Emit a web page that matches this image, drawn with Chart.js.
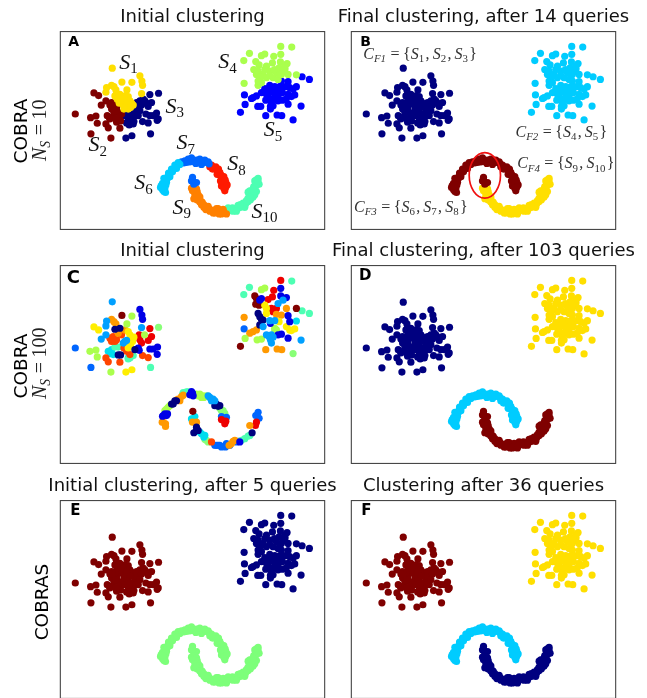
<!DOCTYPE html>
<html>
<head>
<meta charset="utf-8">
<script src="https://cdn.jsdelivr.net/npm/chart.js@4"></script>
<style>
  html, body { margin: 0; padding: 0; background: #fff; overflow: hidden; width: 647px; height: 698px; }
  canvas { position: absolute; }
</style>
</head>
<body>
<canvas id="panelA"></canvas>
<canvas id="panelB"></canvas>
<canvas id="panelC"></canvas>
<canvas id="panelD"></canvas>
<canvas id="panelE"></canvas>
<canvas id="panelF"></canvas>
<script>
// points, same dataset in every panel
const s1 = [[337,206],[420,229],[426,245],[428,258],[366,248],[396,249],[335,258],[342,262],[320,265],[318,279],[348,272],[381,272],[425,283],[360,285],[375,290],[385,292],[352,300],[365,305],[378,300],[390,305],[395,312],[370,318],[380,322],[400,318],[372,330],[385,330],[345,290],[362,295],[372,310],[388,315],[358,312],[368,298],[380,310],[392,325],[350,285]];
const s2 = [[282,281],[296,289],[318,305],[304,318],[226,345],[272,356],[288,351],[292,373],[318,375],[325,387],[273,405],[333,418],[360,388],[362,366],[335,310],[340,325],[350,325],[335,330],[355,340],[328,355],[340,352],[350,370],[330,360],[345,315],[342,340],[365,345],[338,318],[348,335],[330,318],[358,355],[348,360],[322,350]];
const s3 = [[476,282],[450,286],[420,305],[435,305],[418,318],[455,310],[445,322],[415,330],[405,340],[380,340],[390,345],[375,350],[415,350],[470,342],[450,350],[460,350],[475,360],[428,368],[445,372],[472,364],[385,365],[395,365],[388,378],[400,375],[378,418],[396,411],[452,405],[410,325],[398,355],[430,300],[410,310],[425,318],[440,312],[388,352],[402,368],[380,372],[392,372],[420,335],[408,350],[438,345]];
const s4 = [[843,140],[876,142],[749,161],[785,168],[795,163],[822,170],[843,164],[732,183],[768,186],[778,196],[818,190],[842,187],[862,192],[762,210],[775,215],[800,200],[838,205],[856,208],[890,226],[770,225],[790,225],[810,215],[830,220],[850,215],[865,225],[733,252],[780,240],[800,235],[820,235],[835,240],[775,258],[785,250],[782,232],[810,228],[824,210],[845,225],[795,210],[775,245],[855,200]];
const s5 = [[907,232],[929,240],[845,245],[865,247],[858,262],[890,262],[870,265],[810,258],[825,262],[795,268],[815,270],[838,270],[734,287],[785,280],[770,290],[755,298],[760,295],[800,285],[825,285],[835,290],[865,285],[885,287],[875,292],[860,298],[848,303],[798,303],[815,310],[835,305],[736,316],[774,322],[783,322],[812,322],[820,320],[865,315],[904,321],[722,340],[812,330],[798,350],[832,348],[846,350],[880,363],[795,275],[808,280],[828,275],[848,280],[840,262],[805,295],[820,298],[848,262],[880,270]];
const s6 = [[497,583],[488,575],[482,568],[495,572],[490,565],[498,560],[488,555],[495,548],[500,540],[505,532],[510,527],[514,520],[520,513],[527,508],[532,502],[540,498],[492,580],[484,562],[500,552],[492,540],[506,524],[515,512],[525,500],[535,492],[503,540],[510,535],[518,520],[530,510],[488,565]];
const s7Top = [[545,490],[555,487],[565,482],[575,478],[570,490],[580,488],[590,485],[598,490],[605,486],[612,492],[605,498],[620,492],[628,496],[552,493],[560,492],[575,488],[588,495],[600,482],[615,485],[625,490]];
const s7Inner = [[578,537],[575,548],[590,553],[582,558],[578,545]];
const s8 = [[635,500],[642,508],[650,515],[655,522],[660,530],[665,538],[670,545],[678,552],[668,555],[665,563],[678,567],[675,578],[672,570],[630,505],[648,505],[660,522],[672,535],[662,548],[682,560],[638,512],[652,528],[664,530],[676,545],[656,512]];
const s9 = [[575,570],[585,566],[590,572],[592,580],[595,590],[582,602],[600,603],[607,612],[612,620],[620,627],[628,632],[638,637],[648,640],[660,640],[672,642],[645,645],[680,648],[665,648],[578,578],[600,596],[592,606],[605,620],[618,635],[630,640],[655,632],[670,634],[658,648],[585,590],[590,598],[600,612],[612,628],[625,625],[640,645],[650,632]];
const s10 = [[690,638],[698,630],[706,634],[715,630],[722,628],[730,622],[738,617],[745,610],[752,605],[760,597],[765,590],[750,578],[745,582],[762,565],[768,555],[770,545],[775,540],[778,558],[685,630],[700,640],[715,622],[730,615],[745,600],[755,590],[770,580],[758,582],[765,548],[770,562],[682,642],[735,628],[710,640],[722,620],[740,608],[750,598],[762,578],[775,548],[760,572]];

// panel C: 100 small clusters, grouped by colour
const cColors = ['#00a0ff','#000080','#0000e6','#aaff4d','#ffee00','#ff9900','#ff4400','#800000','#ee0000','#4dffb3','#00ddee','#0066ff','#88ff77'];
const cPoints = [
  [[337,205],[320,263],[318,278],[425,283],[318,305],[304,318],[375,325],[370,330],[380,322],[810,262],[825,262],[835,210],[850,200],[800,305],[815,305],[812,320],[815,330],[904,321],[790,280],[630,495],[640,500],[808,310],[820,312],[635,505],[625,490],[645,505]],
  [[345,288],[360,285],[362,366],[405,350],[775,240],[780,250],[790,260],[780,275],[785,258],[525,505],[520,515],[650,515],[645,520],[590,585],[582,602],[595,595],[757,602],[355,366],[655,522],[590,595],[515,515],[530,505],[660,520]],
  [[420,228],[426,245],[428,258],[450,348],[460,348],[473,342],[472,364],[415,345],[843,164],[843,187],[860,192],[780,200],[785,195],[865,315],[865,247],[870,265],[845,303],[835,305],[812,270],[575,477],[570,487],[490,550],[500,550],[495,545],[418,352],[578,482],[488,552],[503,545],[580,490],[720,630]],
  [[396,248],[270,355],[288,351],[292,372],[333,418],[381,272],[434,305],[785,168],[795,163],[825,285],[830,290],[772,320],[785,318],[736,316],[500,530],[505,525],[600,485],[610,490],[595,490],[605,495],[495,535],[510,520],[590,485],[612,495],[620,490]],
  [[282,281],[296,290],[378,418],[396,411],[385,295],[390,305],[395,315],[398,325],[392,335],[385,345],[800,225],[795,215],[800,240],[838,265],[860,280],[870,290],[885,287],[875,292],[402,312]],
  [[335,258],[342,265],[348,272],[375,290],[355,300],[733,252],[770,290],[760,295],[750,300],[860,225],[845,245],[830,243],[798,350],[832,348],[846,350],[490,570],[497,575],[497,583],[487,570],[535,500],[545,492],[540,505],[578,570],[590,570],[695,635],[700,628],[750,580],[530,503],[550,488],[688,640],[705,625]],
  [[340,310],[350,320],[335,325],[345,325],[318,375],[325,387],[360,388],[372,345],[380,355],[390,365],[428,368],[445,374],[365,305],[635,630],[360,300],[330,315],[380,345]],
  [[366,246],[765,187],[770,195],[768,212],[778,215],[890,225],[722,340],[579,537]],
  [[450,286],[418,305],[420,320],[425,330],[455,310],[445,322],[843,140],[822,170],[805,198],[818,190],[815,225],[830,225],[820,235],[665,562],[675,575],[678,567],[767,580],[770,570]],
  [[345,342],[355,342],[400,368],[390,375],[452,404],[876,142],[749,161],[732,183],[907,232],[929,240],[550,480],[560,478],[735,620],[745,612],[385,378],[548,487],[565,478],[725,625],[750,610]],
  [[325,355],[335,350],[340,365],[385,375],[890,263],[585,553],[575,560],[605,605],[612,615],[332,362],[600,600],[615,610]],
  [[226,345],[273,404],[733,287],[680,555],[665,553],[650,640],[660,640],[677,645],[690,640],[715,628],[768,550],[775,540],[778,558],[655,640],[710,630],[645,640],[665,645],[680,635]],
  [[476,282],[880,362],[665,535],[670,535],[620,625],[825,290],[660,528],[675,543],[625,630],[615,622]]
];

const panelTitles = ['Initial clustering', 'Final clustering, after 14 queries', 'Initial clustering', 'Final clustering, after 103 queries', 'Initial clustering, after 5 queries', 'Clustering after 36 queries'];

const NAVY = '#000080', DARKRED = '#7f0000', YELLOW = '#ffdf00', SKY = '#00ccff', GREEN = '#7dff7a';
const upperMoon = [...s6, ...s7Top, ...s8];
const lowerMoon = [...s7Inner, ...s9, ...s10];
const leftBlob = [...s1, ...s2, ...s3];
const rightBlob = [...s4, ...s5];

function toXY(pts) { return pts.map(p => ({ x: p[0], y: p[1] })); }
function ds(pts, color) {
  return { data: toXY(pts), backgroundColor: color, borderWidth: 0, pointRadius: 3.6, pointHoverRadius: 3.6 };
}

// mini math text: S_1 style subscripts, capitals italic
function drawMath(ctx, str, x, y, size, color) {
  ctx.save();
  ctx.fillStyle = color;
  ctx.textBaseline = 'alphabetic';
  ctx.textAlign = 'left';
  let cx = x;
  str.split(/(_\{[^}]*\}|_[^ ])/).forEach(part => {
    if (!part) return;
    if (part[0] === '_') {
      const sub = part.replace(/[_{}]/g, '');
      ctx.font = (sub === 'S' || sub[0] === 'F' ? 'italic ' : '') + (size * 0.68) + 'px "Liberation Serif"';
      ctx.fillText(sub, cx, y + size * 0.2);
      cx += ctx.measureText(sub).width + size * 0.08;
    } else {
      for (const ch of part) {
        const ital = /[A-Z]/.test(ch);
        ctx.font = (ital ? 'italic ' : '') + size + 'px "Liberation Serif"';
        if (ch === '=') cx += size * 0.2;
        ctx.fillText(ch, cx, y);
        cx += ctx.measureText(ch).width + (ch === ',' ? size * 0.2 : (ch === '=' ? size * 0.22 : 0));
      }
    }
  });
  ctx.restore();
}

const framePlugin = {
  id: 'frame',
  afterDatasetsDraw(chart, args, opts) {
    const ctx = chart.ctx, a = chart.chartArea;
    ctx.save();
    ctx.strokeStyle = '#333';
    ctx.lineWidth = 1;
    ctx.strokeRect(a.left, a.top, a.width, a.height);
    const sx = chart.scales.x, sy = chart.scales.y;
    // red ellipse round the wrongly grouped points
    if (opts.ellipse) {
      const e = opts.ellipse;
      ctx.strokeStyle = '#f01010';
      ctx.lineWidth = 1.7;
      ctx.beginPath();
      ctx.ellipse(sx.getPixelForValue(e[0]), sy.getPixelForValue(e[1]),
        sx.getPixelForValue(e[0] + e[2]) - sx.getPixelForValue(e[0]),
        sy.getPixelForValue(e[1] + e[3]) - sy.getPixelForValue(e[1]), 0, 0, Math.PI * 2);
      ctx.stroke();
    }
    // panel letter
    ctx.fillStyle = '#000';
    ctx.font = 'bold ' + opts.letterSize + 'px "DejaVu Sans"';
    ctx.textBaseline = 'alphabetic';
    ctx.fillText(opts.letter, sx.getPixelForValue(opts.letterAt[0]), sy.getPixelForValue(opts.letterAt[1]));
    (opts.math || []).forEach(m => {
      drawMath(ctx, m[0], sx.getPixelForValue(m[1]), sy.getPixelForValue(m[2]), m[3], m[4] || '#111');
    });
    // row labels, rotated
    (opts.side || []).forEach(m => {
      ctx.save();
      ctx.translate(m[1], m[2]);
      ctx.rotate(-Math.PI / 2);
      if (m[3] === 'sans') {
        ctx.font = '18.5px "DejaVu Sans"';
        ctx.fillStyle = '#000';
        ctx.textAlign = 'center';
        ctx.fillText(m[0], 0, 0);
      } else {
        drawMath(ctx, m[0], 0, 0, 20, '#222');
      }
      ctx.restore();
    });
    ctx.restore();
  }
};

function makePanel(id, left, top, width, pad, title, datasets, frameOpts) {
  const el = document.getElementById(id);
  el.width = width; el.height = 233;
  el.style.left = left + 'px';
  el.style.top = top + 'px';
  // blank side axes hold the frame in place, so the title keeps the whole canvas width
  const blank = (pos) => ({
    position: pos, display: true, min: 95, max: 695, reverse: true,
    grid: { display: false }, border: { display: false }, ticks: { display: false },
    afterFit: s => { s.width = pad; }
  });
  new Chart(el, {
    type: 'scatter',
    data: { datasets },
    options: {
      responsive: false,
      animation: false,
      layout: { padding: { left: 0, right: 0, top: 0, bottom: 1.3 } },
      scales: {
        x: { display: false, min: 181, max: 975 },
        y: blank('left'),
        yr: blank('right')
      },
      plugins: {
        legend: { display: false },
        tooltip: { enabled: false },
        title: { display: true, text: title, color: '#111', font: { family: 'DejaVu Sans', size: 18, weight: 'normal', lineHeight: 1.2 }, padding: { top: 7, bottom: 3 } },
        frame: frameOpts
      }
    },
    plugins: [framePlugin]
  });
}

const LEFT = 0, LEFT_W = 385, LEFT_PAD = 60.3, RIGHT = 320, RIGHT_W = 327, RIGHT_PAD = 31.3;

makePanel('panelA', LEFT, 0, LEFT_W, LEFT_PAD, panelTitles[0], [
  ds(s1, YELLOW), ds(s2, DARKRED), ds(s3, NAVY), ds(s4, '#aaff4d'), ds(s5, '#0000ff'),
  ds(s6, '#00ccff'), ds(s7Top.concat(s7Inner), '#0066ff'), ds(s8, '#ff1a00'), ds(s9, '#ff8000'), ds(s10, '#4dffb3')
], {
  letter: 'A', letterAt: [205, 139], letterSize: 14,
  math: [['S_1', 358, 207, 22], ['S_2', 266, 458, 22], ['S_3', 497, 342, 22], ['S_4', 655, 206, 22], ['S_5', 792, 412, 22],
    ['S_6', 403, 573, 22], ['S_7', 530, 452, 22], ['S_8', 682, 516, 22], ['S_9', 518, 648, 22], ['S_{10}', 755, 660, 22]],
  side: [['COBRA', 27, 131, 'sans'], ['N_S=10', 46, 161, 'math']]
});

makePanel('panelB', RIGHT, 0, RIGHT_W, RIGHT_PAD, panelTitles[1], [
  ds(leftBlob, NAVY), ds(rightBlob, SKY), ds(upperMoon.concat(s7Inner), DARKRED), ds(s9.concat(s10), YELLOW)
], {
  letter: 'B', letterAt: [208, 138], letterSize: 14,
  ellipse: [582, 531, 47, 69],
  math: [['C_{F1}={S_1,S_2,S_3}', 217, 178, 16, '#333'], ['C_{F2}={S_4,S_5}', 674, 415, 16, '#333'],
    ['C_{F4}={S_9,S_{10}}', 679, 510, 16, '#333'], ['C_{F3}={S_6,S_7,S_8}', 189, 642, 16, '#333']]
});

makePanel('panelC', LEFT, 234, LEFT_W, LEFT_PAD, panelTitles[2],
  cPoints.map((pts, i) => ds(pts, cColors[i])), {
  letter: 'C', letterAt: [200, 147], letterSize: 18,
  side: [['COBRA', 27, 132, 'sans'], ['N_S=100', 46, 165, 'math']]
});

makePanel('panelD', RIGHT, 234, RIGHT_W, RIGHT_PAD, panelTitles[3], [
  ds(leftBlob, NAVY), ds(rightBlob, YELLOW), ds(upperMoon, SKY), ds(lowerMoon, DARKRED)
], { letter: 'D', letterAt: [204, 138], letterSize: 15 });

makePanel('panelE', LEFT, 469, LEFT_W, LEFT_PAD, panelTitles[4], [
  ds(leftBlob, DARKRED), ds(rightBlob, NAVY), ds(upperMoon.concat(lowerMoon), GREEN)
], {
  letter: 'E', letterAt: [211, 138], letterSize: 15,
  side: [['COBRAS', 48, 133, 'sans']]
});

makePanel('panelF', RIGHT, 469, RIGHT_W, RIGHT_PAD, panelTitles[5], [
  ds(leftBlob, DARKRED), ds(rightBlob, YELLOW), ds(upperMoon, SKY), ds(lowerMoon, NAVY)
], { letter: 'F', letterAt: [211, 138], letterSize: 15 });
</script>
</body>
</html>
